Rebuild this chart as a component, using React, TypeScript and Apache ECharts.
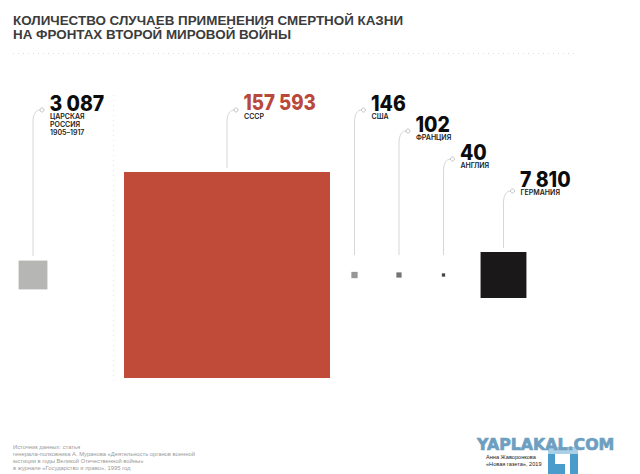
import React, { useEffect, useRef } from "react";
import * as echarts from "echarts";

// Все квадраты: площадь пропорциональна числу случаев
const countries = ["ЦАРСКАЯ\nРОССИЯ\n1905–1917", "СССР", "США", "ФРАНЦИЯ", "АНГЛИЯ", "ГЕРМАНИЯ"];
const cases = [3087, 157593, 146, 102, 40, 7810];
const squareColors = ["#b6b6b4", "#c14b39", "#979797", "#747474", "#444444", "#1b181a"];
const numberColors = ["#0c0c0c", "#b9473a", "#0c0c0c", "#0c0c0c", "#0c0c0c", "#0c0c0c"];
const slots = [33, 227, 354.5, 399, 443.5, 503.5];
const circleY = [110, 110, 110, 131, 159, 191];
const lineBottom = [256, 168, 255, 255, 255, 248];
const textShift = [0, 0, 0, 0, 0, -4.5];

const title = ["КОЛИЧЕСТВО СЛУЧАЕВ ПРИМЕНЕНИЯ СМЕРТНОЙ КАЗНИ", "НА ФРОНТАХ ВТОРОЙ МИРОВОЙ ВОЙНЫ"];
const source =
  "Источник данных: статья\nгенерала-полковника А. Муранова «Деятельность органов военной\nюстиции в годы Великой Отечественной войны»\nв журнале «Государство и право», 1995 год";
const author = "Анна Жаворонкова\n«Новая газета», 2019";

const SCALE = 206 / Math.sqrt(157593);
const FONT = "Inter";
const BLUE = "#6e9fc0";
const LOGO = "#4a9dca";

const fmt = (v: number) => String(v).replace(/\B(?=(\d{3})+$)/g, " ");

const App: React.FC = () => {
  const chartRef = useRef<HTMLDivElement>(null);

  useEffect(() => {
    const chart = echarts.init(chartRef.current!, null, { renderer: "svg" });

    const leaders: any[] = [];
    cases.forEach((v, i) => {
      const x = slots[i];
      const cy = circleY[i];
      leaders.push(
        { type: "line", shape: { x1: x, y1: lineBottom[i], x2: x, y2: cy + 12 }, style: { stroke: "#d6d6d6", lineWidth: 1 } },
        {
          type: "bezierCurve",
          shape: { x1: x, y1: cy + 12, cpx1: x, cpy1: cy + 4, cpx2: x + 3, cpy2: cy, x2: x + 7, y2: cy },
          style: { stroke: "#d6d6d6", lineWidth: 1, fill: "none" },
        },
        { type: "circle", shape: { cx: x + 9, cy, r: 2 }, style: { stroke: "#b5b5b5", lineWidth: 0.8, fill: "#fff" } },
        {
          type: "text",
          x: x + 16.5,
          y: cy - 17.5 + textShift[i],
          scaleX: i === 1 ? 0.89 : 0.925,
          style: { text: fmt(v), font: `800 21px ${FONT}`, fill: numberColors[i], textVerticalAlign: "top" },
        },
        {
          type: "text",
          x: x + 17,
          y: cy + 2 + textShift[i],
          style: { text: countries[i], font: `600 7px ${FONT}`, lineHeight: 8.3, fill: "#1c1c1c", textVerticalAlign: "top" },
        }
      );
    });

    const options = {
      animation: false,
      backgroundColor: "#ffffff",
      grid: { left: 0, right: 0, top: 0, bottom: 0 },
      xAxis: { type: "value", min: 0, max: 640, show: false },
      yAxis: { type: "value", min: 0, max: 474, inverse: true, show: false },
      series: [
        {
          type: "scatter",
          symbol: "rect",
          symbolSize: (d: number[]) => SCALE * Math.sqrt(d[2]),
          silent: true,
          data: cases.map((v, i) => ({
            value: [slots[i], 275, v],
            itemStyle: { color: squareColors[i], opacity: 1 },
          })),
        },
      ],
      graphic: [
        {
          type: "text",
          x: 13,
          y: 13,
          style: { text: title.join("\n"), font: `700 13.4px "Liberation Sans"`, lineHeight: 14, fill: "#3c3c3c", textVerticalAlign: "top" },
        },
        {
          type: "line",
          shape: { x1: 13, y1: 53.5, x2: 575, y2: 53.5 },
          style: { stroke: "#dddddd", lineWidth: 1, lineDash: [1, 4] },
        },
        {
          type: "line",
          shape: { x1: 113.5, y1: 95, x2: 113.5, y2: 382 },
          style: { stroke: "#e6e6e6", lineWidth: 1, lineDash: [1, 4] },
        },
        ...leaders,
        {
          type: "text",
          x: 13,
          y: 443.5,
          style: { text: source, font: `400 5.8px "Liberation Sans"`, lineHeight: 7, fill: "#9a9a9a", textVerticalAlign: "top" },
        },
        { type: "rect", shape: { x: 548, y: 447, width: 30, height: 7 }, style: { fill: "#a9d0e6" } },
        { type: "rect", shape: { x: 548, y: 454, width: 7, height: 20 }, style: { fill: LOGO } },
        { type: "rect", shape: { x: 548, y: 464, width: 17, height: 10 }, style: { fill: LOGO } },
        { type: "rect", shape: { x: 570, y: 454, width: 8, height: 20 }, style: { fill: LOGO } },
        {
          type: "text",
          x: 477,
          y: 436.5,
          style: {
            text: "YAPLAKAL.COM",
            font: `700 15.8px "DejaVu Sans"`,
            fill: BLUE,
            stroke: BLUE,
            lineWidth: 0.7,
            textVerticalAlign: "top",
          },
        },
        {
          type: "text",
          x: 486,
          y: 453.5,
          style: { text: author, font: `400 5.6px "Liberation Sans"`, lineHeight: 7, fill: "#222222", textVerticalAlign: "top" },
        },
      ],
    };
    chart.setOption(options);

    return () => {
      chart.dispose();
    };
  }, []);

  return <div ref={chartRef} style={{ position: "absolute", left: 0, top: 0, width: 640, height: 474 }}></div>;
};

export default App;
